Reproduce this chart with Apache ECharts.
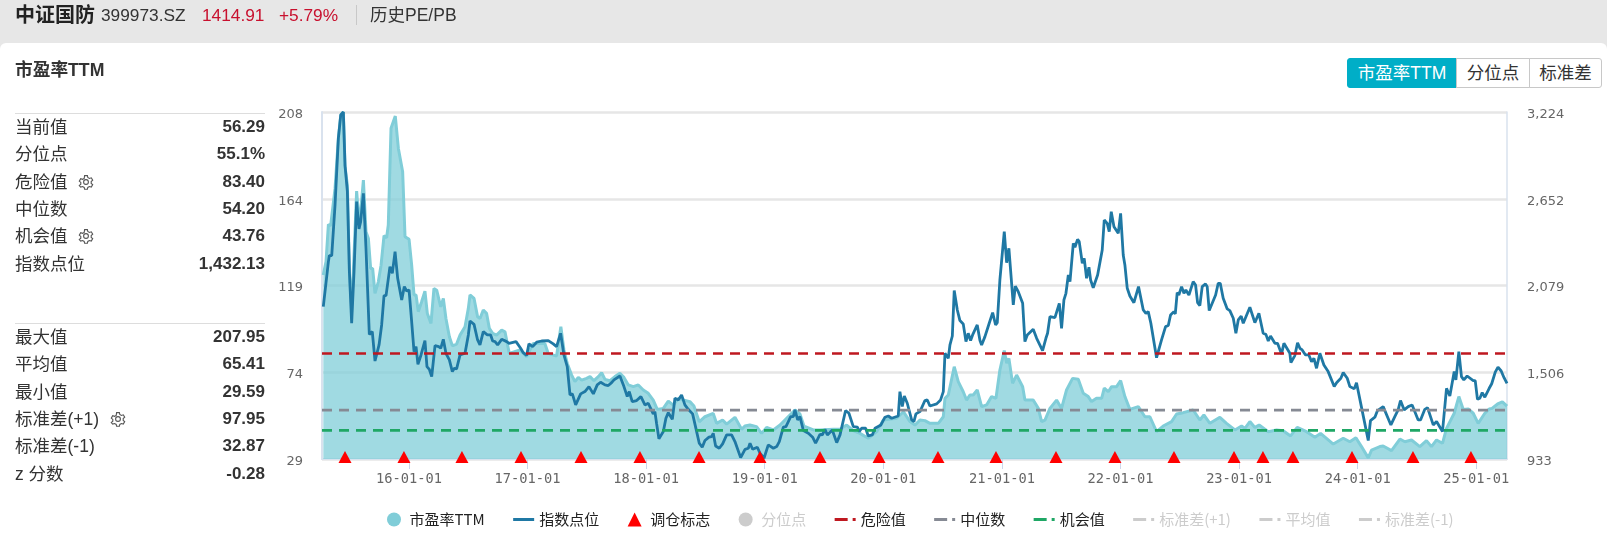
<!DOCTYPE html>
<html><head><meta charset="utf-8">
<script src="https://cdn.jsdelivr.net/npm/echarts@6/dist/echarts.min.js"></script>
<style>
html,body{margin:0;padding:0;width:1607px;height:541px;overflow:hidden;background:#e7e7e7;font-family:"Liberation Sans","Noto Sans CJK SC",sans-serif;color:#333}
#panel{position:absolute;left:0;top:43px;width:1607px;height:498px;background:#fff;border-radius:6px 6px 0 0}
#chart{position:absolute;left:0;top:0;width:1607px;height:541px}
.t{position:absolute;white-space:nowrap;line-height:22px;font-size:17.5px}
.v{position:absolute;right:1342px;white-space:nowrap;line-height:22px;font-size:17px;font-weight:bold}
.rule{position:absolute;left:15px;width:250px;height:1px;background:#ddd}
.btn{position:absolute;top:58px;height:30px;line-height:29px;text-align:center;font-size:17.5px;box-sizing:border-box;border:1px solid #c8c8c8;background:#fff}
svg.g{position:absolute;width:16px;height:16px}
</style></head><body>
<div id="panel"></div>
<div id="chart"></div>
<div class="t" style="left:15px;top:4px;font-size:20px;font-weight:bold;color:#222">中证国防</div>
<div class="t" style="left:101px;top:4px;font-size:17.3px">399973.SZ</div>
<div class="t" style="left:202px;top:4px;font-size:17.3px;color:#c8102e">1414.91</div>
<div class="t" style="left:279px;top:4px;font-size:17.3px;color:#c8102e">+5.79%</div>
<div style="position:absolute;left:356px;top:5px;width:1px;height:20px;background:#c8c8c8"></div>
<div class="t" style="left:370px;top:4px;font-size:17.5px">历史PE/PB</div>
<div class="t" style="left:15px;top:59px;font-weight:bold;font-size:17.7px">市盈率TTM</div>
<div class="btn" style="left:1347px;width:110px;background:#00aec7;border-color:#00aec7;color:#fff;border-radius:3px 0 0 3px">市盈率TTM</div>
<div class="btn" style="left:1456px;width:74px">分位点</div>
<div class="btn" style="left:1529px;width:73px;border-radius:0 3px 3px 0">标准差</div>
<div id="stats"></div>
<script>
// ---- stats panel text ----
const statLabelsTop = ['当前值','分位点','危险值','中位数','机会值','指数点位'];
const statValuesTop = ['56.29','55.1%','83.40','54.20','43.76','1,432.13'];
const statLabelsBottom = ['最大值','平均值','最小值','标准差(+1)','标准差(-1)','z 分数'];
const statValuesBottom = ['207.95','65.41','29.59','97.95','32.87','-0.28'];

// ---- reference levels ----
const dangerValue = 83.40;
const medianValue = 54.20;
const chanceValue = 43.76;

// ---- axes ----
const xTickYears = [16,17,18,19,20,21,22,23,24,25];
const xTickLabels = ['16-01-01','17-01-01','18-01-01','19-01-01','20-01-01','21-01-01','22-01-01','23-01-01','24-01-01','25-01-01'];
const xStart = 15.267, xEnd = 25.259;
const peTickValues = [29,73.75,118.5,163.25,208];
const peTickLabels = ['29','74','119','164','208'];
const indexTickValues = [933,1506,2079,2652,3224];
const indexTickLabels = ['933','1,506','2,079','2,652','3,224'];

// ---- 调仓标志 dates (decimal years) ----
const rebalanceYears = [15.461,15.958,16.447,16.945,17.451,17.948,18.446,18.960,19.466,19.964,20.461,20.950,21.456,21.953,22.451,22.957,23.201,23.454,23.952,24.466,24.955];
const rebalanceLevel = 29;

// ---- 市盈率TTM (decimal year, value) ----
const peYears = [15.278,15.301,15.321,15.340,15.377,15.405,15.425,15.447,15.461,15.481,15.498,15.517,15.537,15.559,15.579,15.593,15.616,15.638,15.658,15.677,15.694,15.714,15.742,15.765,15.790,15.812,15.826,15.849,15.863,15.885,15.911,15.947,15.967,16.001,16.023,16.043,16.060,16.079,16.107,16.135,16.155,16.186,16.211,16.234,16.268,16.290,16.312,16.341,16.366,16.402,16.431,16.473,16.501,16.515,16.549,16.579,16.599,16.627,16.655,16.678,16.706,16.739,16.782,16.810,16.846,16.936,16.992,17.048,17.146,17.174,17.245,17.281,17.307,17.335,17.372,17.400,17.428,17.456,17.498,17.527,17.560,17.597,17.625,17.653,17.695,17.737,17.779,17.813,17.850,17.892,17.934,17.976,18.018,18.060,18.094,18.145,18.187,18.229,18.271,18.313,18.369,18.403,18.448,18.496,18.566,18.594,18.645,18.679,18.749,18.805,18.833,18.875,18.931,18.974,19.016,19.073,19.129,19.185,19.255,19.297,19.331,19.41,19.466,19.578,19.635,19.691,19.747,19.803,19.873,19.944,20.0,20.112,20.169,20.225,20.267,20.309,20.351,20.393,20.464,20.506,20.52,20.548,20.598,20.632,20.674,20.702,20.73,20.758,20.792,20.829,20.871,20.913,20.95,20.983,21.02,21.04,21.059,21.09,21.124,21.175,21.194,21.264,21.307,21.335,21.363,21.405,21.461,21.503,21.545,21.596,21.644,21.686,21.728,21.756,21.798,21.841,21.863,21.897,21.925,21.967,22.001,22.037,22.079,22.15,22.206,22.248,22.304,22.36,22.431,22.473,22.529,22.613,22.669,22.703,22.754,22.838,22.894,22.965,23.021,23.049,23.091,23.133,23.169,23.246,23.316,23.372,23.434,23.49,23.569,23.639,23.687,23.794,23.878,23.934,23.985,24.032,24.089,24.117,24.187,24.215,24.285,24.356,24.398,24.454,24.524,24.58,24.622,24.665,24.715,24.749,24.814,24.853,24.89,24.932,24.974,25.016,25.072,25.109,25.13,25.18,25.22,25.259];
const peValues = [123.9,130.8,150.0,149.3,168.6,194.4,206.4,207.95,179.8,170.3,125.6,105,134.2,167.2,151.4,156.6,172.9,146.2,142.8,127.3,127.3,114.4,120.4,129.0,144.2,143.1,149.7,199.6,198.7,205.9,189.2,177.2,143.7,142.3,129.0,113.6,113.6,105.0,110.1,115.6,104.1,98.9,117,116.1,107.5,111.8,101.5,92.1,87.4,88.3,92.9,97.2,106.7,113.6,111.8,102.4,101.5,105.8,104.1,96.4,93.8,92.9,95.5,94.6,83.5,85.2,81.8,88.6,88.6,83.5,82.1,97.2,85.2,78.3,72.3,68.9,71.1,69.7,70.6,71.5,69.4,71.5,73.5,70.1,69.4,71.5,73.2,71.1,67.2,66.3,67.2,64.6,62.9,59.4,54.6,55.1,58.9,56.8,60.3,59.4,58.6,56.3,48.2,50.8,52.5,47.4,49.1,47,50.5,44.3,46,46.5,45.7,42.2,45.3,44,46.5,50,54.3,52.2,46,44,44,44.3,44.3,46.5,43.6,42.2,39.7,43.1,49.1,50,53.4,48.3,46.5,49.1,48.8,47.4,47.4,50.8,60.3,62,76.6,68.9,63.7,59.4,62,62,64.6,56,56.9,61.2,60.3,74.9,84.9,78.4,80.9,68,72.3,66.3,59.4,59.4,55.1,48.3,49.1,55.1,59.4,55.1,64.6,70.6,70.1,62.9,61.2,58.6,60.3,60.3,65.5,63.7,66.3,66.3,69.4,61.2,54.6,56,50.8,50.8,43.1,46,48.3,52.2,52.9,54.3,49.1,51.7,47.4,50.5,47.4,44,46,44.8,48.3,45.3,46.5,43.1,44,43.6,40.9,45.3,43.1,40.2,42.2,36.7,39.7,37.9,40,35.4,29.59,33.6,35.4,35.7,33.3,39.3,37.9,38.8,35.4,38.5,35.4,38.8,37.1,44.8,52.6,61.2,54.6,54.8,52.6,47.4,52.6,54.8,55,57.4,58.5,56.29];

// ---- 指数点位 (decimal year, value) ----
const indexYears = [15.278,15.321,15.329,15.349,15.377,15.405,15.425,15.447,15.461,15.481,15.498,15.517,15.537,15.559,15.579,15.593,15.616,15.638,15.666,15.691,15.714,15.748,15.770,15.790,15.807,15.840,15.860,15.883,15.905,15.939,15.961,15.981,16.001,16.023,16.043,16.060,16.076,16.102,16.135,16.152,16.172,16.192,16.220,16.251,16.268,16.290,16.312,16.341,16.366,16.383,16.402,16.431,16.473,16.501,16.515,16.549,16.579,16.599,16.627,16.661,16.689,16.706,16.726,16.748,16.782,16.824,16.844,16.903,16.942,16.964,16.992,17.012,17.043,17.077,17.119,17.175,17.217,17.245,17.279,17.307,17.335,17.358,17.378,17.406,17.420,17.448,17.484,17.518,17.555,17.588,17.616,17.653,17.681,17.709,17.729,17.779,17.813,17.841,17.858,17.883,17.920,17.956,17.990,18.018,18.060,18.074,18.088,18.108,18.145,18.167,18.187,18.221,18.243,18.271,18.299,18.327,18.355,18.392,18.426,18.448,18.473,18.496,18.530,18.552,18.566,18.586,18.617,18.645,18.679,18.721,18.749,18.797,18.834,18.862,18.876,18.898,18.938,18.960,18.994,19.030,19.073,19.101,19.123,19.157,19.179,19.219,19.241,19.255,19.278,19.297,19.326,19.368,19.404,19.429,19.466,19.486,19.508,19.528,19.570,19.607,19.635,19.682,19.710,19.747,19.781,19.798,19.817,19.851,19.873,19.907,19.930,19.980,20.014,20.042,20.070,20.126,20.140,20.160,20.177,20.202,20.239,20.258,20.275,20.309,20.351,20.371,20.393,20.450,20.483,20.506,20.520,20.548,20.562,20.582,20.598,20.624,20.646,20.674,20.697,20.716,20.736,20.753,20.792,20.815,20.829,20.857,20.871,20.893,20.922,20.947,20.961,20.983,21.020,21.040,21.059,21.096,21.113,21.138,21.175,21.194,21.214,21.264,21.293,21.309,21.343,21.371,21.385,21.405,21.447,21.484,21.503,21.523,21.540,21.560,21.574,21.602,21.616,21.638,21.652,21.678,21.694,21.714,21.734,21.748,21.770,21.807,21.846,21.863,21.888,21.905,21.922,21.945,21.981,22.001,22.023,22.037,22.057,22.079,22.113,22.152,22.192,22.214,22.234,22.256,22.304,22.346,22.380,22.403,22.422,22.450,22.462,22.478,22.492,22.515,22.535,22.551,22.577,22.613,22.633,22.650,22.669,22.689,22.717,22.731,22.748,22.802,22.824,22.841,22.866,22.900,22.922,22.951,22.973,22.993,23.018,23.035,23.091,23.133,23.167,23.203,23.226,23.246,23.265,23.302,23.324,23.358,23.378,23.428,23.437,23.470,23.493,23.513,23.532,23.560,23.588,23.611,23.631,23.653,23.681,23.715,23.751,23.802,23.822,23.858,23.878,23.912,23.934,23.971,23.990,24.052,24.066,24.089,24.108,24.145,24.167,24.215,24.280,24.313,24.341,24.361,24.392,24.426,24.459,24.510,24.530,24.566,24.589,24.637,24.665,24.715,24.749,24.777,24.814,24.828,24.853,24.875,24.895,24.923,24.974,24.991,25.010,25.030,25.050,25.072,25.109,25.13,25.16,25.183,25.21,25.235,25.259];
const indexValues = [1939,2236,2276,2276,2610,3050,3204,3224,2874,2698,2170,1829,2170,2632,2452,2500,2687,2324,1756,1774,1580,1686,1818,2012,2012,2203,2159,2302,2126,1983,2071,2042,2049,1840,1642,1675,1558,1620,1715,1543,1525,1477,1682,1675,1664,1723,1631,1587,1510,1532,1528,1620,1631,1752,1844,1822,1719,1686,1774,1752,1752,1712,1708,1686,1723,1708,1697,1708,1664,1635,1616,1693,1675,1704,1712,1715,1693,1675,1763,1620,1543,1356,1363,1290,1283,1363,1378,1411,1363,1422,1440,1422,1418,1437,1455,1481,1411,1345,1378,1312,1319,1345,1290,1301,1231,1246,1169,1066,1114,1202,1239,1195,1334,1323,1356,1290,1261,1231,1114,1037,1011,1055,1077,1081,1103,1019,1004,1033,1092,1092,1048,942,997,1004,1037,997,1011,971,938,1026,1004,1015,1048,1143,1147,1213,1213,1257,1191,1213,1121,1103,1077,1037,1096,1092,1129,1092,1125,1041,1092,1253,1235,1147,1143,1114,1136,1136,1085,1092,1136,1158,1209,1217,1202,1217,1378,1279,1349,1301,1191,1180,1231,1246,1319,1323,1283,1297,1323,1378,1631,1598,1686,1745,2045,1917,1847,1825,1708,1763,1715,1752,1818,1715,1686,1741,1745,1829,1899,1818,1833,2115,2434,2229,2324,1950,2075,2038,1961,1708,1752,1789,1730,1719,1649,1730,1763,1873,1866,1961,1796,1983,2027,2148,2104,2357,2331,2383,2368,2225,2258,2126,2199,2115,2064,2148,2313,2511,2489,2434,2566,2467,2423,2555,2280,2214,2060,2009,1965,2071,1917,1895,1906,1829,1602,1719,1807,1814,1884,1906,1891,2031,2016,2071,2027,2049,2016,2104,2082,1965,1946,2071,2089,2071,1913,2016,2093,2093,1994,1924,1913,1862,1763,1851,1877,1829,1935,1833,1895,1763,1756,1712,1745,1697,1697,1627,1697,1631,1569,1616,1701,1664,1653,1620,1620,1576,1598,1532,1631,1554,1510,1411,1437,1466,1503,1466,1411,1396,1437,1198,1191,1055,1187,1209,1253,1279,1158,1213,1257,1319,1257,1279,1290,1191,1191,1261,1272,1158,1180,1114,1400,1349,1510,1455,1642,1477,1455,1481,1451,1451,1327,1334,1371,1341,1400,1430,1507,1540,1514,1468,1432];

// ---- panel rendering ----
const gear = (x,y)=>`<svg class="g" style="left:${x-8}px;top:${y-8}px" viewBox="0 0 16 16"><circle cx="8" cy="8" r="2.4" fill="none" stroke="#555" stroke-width="1.1"/><path d="M6.6 1.6h2.8l.4 1.9 1.6.9 1.9-.6 1.4 2.4-1.5 1.3v1.9l1.5 1.2-1.4 2.5-1.9-.6-1.6.9-.4 1.9H6.6l-.4-1.9-1.6-.9-1.9.6L1.300 11.500l1.500-1.200V8.400L1.300 7.100l1.400-2.400 1.900.6 1.600-.9z" fill="none" stroke="#555" stroke-width="1.1"/></svg>`;
let html = '<div class="rule" style="top:113px"></div><div class="rule" style="top:323px"></div>';
const rowStep = 27.3;
statLabelsTop.forEach((l,i)=>{const y=127+i*rowStep;html+=`<div class="t" style="left:15px;top:${y-11}px">${l}</div><div class="v" style="top:${y-11}px">${statValuesTop[i]}</div>`;});
statLabelsBottom.forEach((l,i)=>{const y=337+i*rowStep;html+=`<div class="t" style="left:15px;top:${y-11}px">${l}</div><div class="v" style="top:${y-11}px">${statValuesBottom[i]}</div>`;});
html += gear(86,182)+gear(86,236)+gear(118,419);
document.getElementById('stats').innerHTML = html;

// ---- chart ----
const zip = (xs,ys)=>xs.map((x,i)=>[x,ys[i]]);
const level = v=>[[xStart,v],[xEnd,v]];
const dash = (name,color,v,yi)=>({name,type:'line',data:v==null?[]:level(v),symbol:'none',silent:true,z:6,lineStyle:{color,width:2.6,type:[10,7]},itemStyle:{color},xAxisIndex:0,yAxisIndex:yi||0});
const solidIcon = 'path://M0 0H21V3H0Z';
const dashIcon = 'path://M0 0H13V3H0ZM18 0H21V3H18Z';
const chart = echarts.init(document.getElementById('chart'));
chart.setOption({
  animation:false,
  backgroundColor:'transparent',
  textStyle:{fontFamily:'"Liberation Sans","Noto Sans CJK SC",sans-serif'},
  grid:{left:322,right:100,top:112,bottom:82,containLabel:false},
  legend:{
    left:382,top:507,itemWidth:21,itemHeight:14,itemGap:28.5,
    textStyle:{fontSize:15,color:'#222',fontFamily:'"Noto Sans CJK SC",sans-serif'},
    inactiveColor:'#ccc',
    data:[{name:'市盈率TTM',icon:'circle'},{name:'指数点位',icon:solidIcon},{name:'调仓标志',icon:'path://M7 0L14 14L0 14Z'},{name:'分位点',icon:'circle'},{name:'危险值',icon:dashIcon},{name:'中位数',icon:dashIcon},{name:'机会值',icon:dashIcon},{name:'标准差(+1)',icon:dashIcon},{name:'平均值',icon:dashIcon},{name:'标准差(-1)',icon:dashIcon}],
    selected:{'分位点':false,'标准差(+1)':false,'平均值':false,'标准差(-1)':false}
  },
  xAxis:{type:'value',min:xStart,max:xEnd,splitLine:{show:false},
    axisLine:{onZero:false,lineStyle:{color:'#d9e2ee',width:2}},
    axisTick:{show:true,length:10,lineStyle:{color:'#ccd6eb',width:1},customValues:xTickYears},
    axisLabel:{customValues:xTickYears,margin:13,fontSize:13.7,color:'#666',fontFamily:'"DejaVu Sans Mono"',formatter:v=>xTickLabels[xTickYears.indexOf(v)]}},
  yAxis:[
    {type:'value',min:29,max:208,position:'left',
     axisLine:{show:true,lineStyle:{color:'#d9e2ee',width:2}},axisTick:{show:false,customValues:peTickValues},
     splitLine:{show:true,lineStyle:{color:'#e6e6e6',width:2.5}},
     axisLabel:{customValues:peTickValues,margin:19,verticalAlign:'top',lineHeight:5,fontSize:13,color:'#666',fontFamily:'"DejaVu Sans"',formatter:v=>peTickLabels[peTickValues.indexOf(v)]}},
    {type:'value',min:933,max:3224,position:'right',
     axisLine:{show:true,lineStyle:{color:'#d9e2ee',width:1.5}},axisTick:{show:false,customValues:indexTickValues},
     splitLine:{show:false},
     axisLabel:{customValues:indexTickValues,margin:20,verticalAlign:'top',lineHeight:5,fontSize:13,color:'#666',fontFamily:'"DejaVu Sans"',formatter:v=>indexTickLabels[indexTickValues.indexOf(v)]}}
  ],
  series:[
    {name:'市盈率TTM',type:'line',data:zip(peYears,peValues),symbol:'none',z:2,lineStyle:{color:'#80cdd8',width:3},itemStyle:{color:'#80cdd8'},areaStyle:{color:'#80cdd8',opacity:.75,origin:'start'}},
    {name:'指数点位',type:'line',yAxisIndex:1,data:zip(indexYears,indexValues),symbol:'none',z:4,lineStyle:{color:'#1f78a4',width:2.8},itemStyle:{color:'#1f78a4'}},
    {name:'调仓标志',type:'scatter',data:rebalanceYears.map(y=>[y,rebalanceLevel]),symbol:'triangle',symbolSize:[13,12],symbolOffset:[0,-2],clip:false,z:8,itemStyle:{color:'#ff0000',opacity:1}},
    {name:'分位点',type:'line',data:[],symbol:'none',itemStyle:{color:'#ccc'}},
    dash('危险值','#bf1820',dangerValue),
    dash('中位数','#868a94',medianValue),
    dash('机会值','#1fa765',chanceValue),
    dash('标准差(+1)','#ccc',97.95),
    dash('平均值','#ccc',65.41),
    dash('标准差(-1)','#ccc',32.87)
  ]
});
</script>
</body></html>
